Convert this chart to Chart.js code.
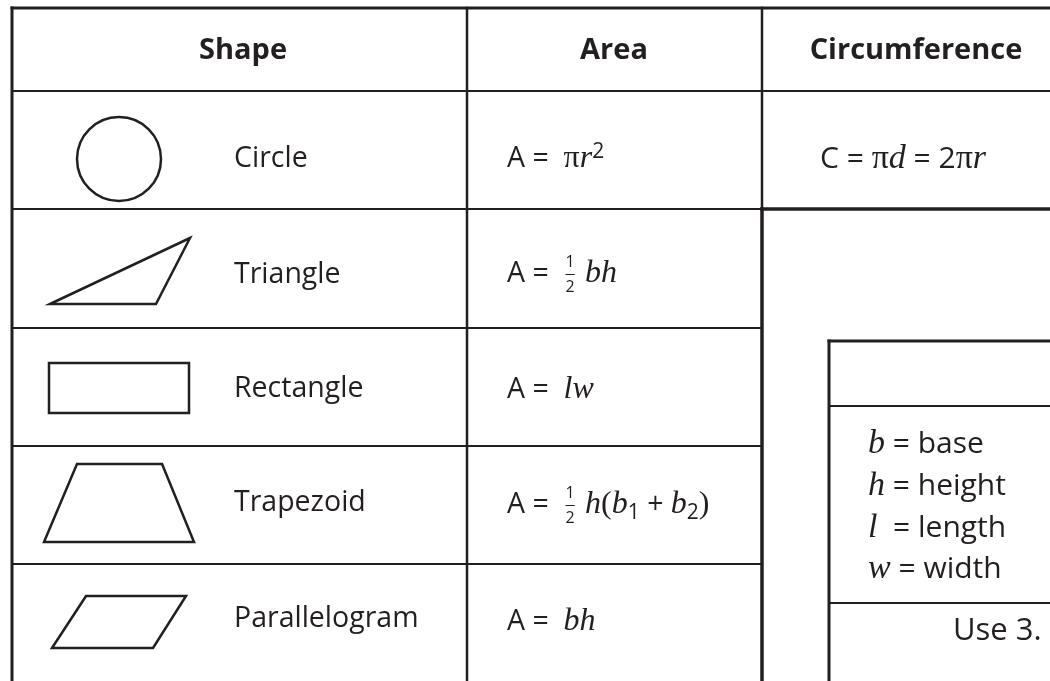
<!DOCTYPE html>
<html>
<head>
<meta charset="utf-8">
<title>Area and Circumference</title>
<script src="https://cdn.jsdelivr.net/npm/chart.js@4/dist/chart.umd.min.js"></script>
<style>
  html, body { margin: 0; padding: 0; background: #fff; }
  canvas { display: block; }
</style>
</head>
<body>
<canvas id="formulaChart" width="1050" height="681"></canvas>
<script>
// --- table content ---
const headers = ['Shape', 'Area', 'Circumference'];
const shapeNames = ['Circle', 'Triangle', 'Rectangle', 'Trapezoid', 'Parallelogram'];
// {x} = italic variable, [x] = upright symbol, ^n superscript, _n subscript, ½ stacked fraction
const areaFormulas = [
  'A =  [π]{r}^2',
  'A =  ½ {bh}',
  'A =  {lw}',
  'A =  ½ {h}[(]{b}_1 + {b}_2[)]',
  'A =  {bh}'
];
const circumferenceFormula = 'C = [π]{d} = 2[π]{r}';
const keyLines = ['{b} = base', '{h} = height', '{l}  = length', '{w} = width'];
const keyNote = 'Use 3.';

// outlines of the little drawings, in a unit box (0..1 across, 0..1 down)
const triangleOutline = [[0, 1], [1, 0], [0.757, 1]];
const rectangleOutline = [[0, 0], [1, 0], [1, 1], [0, 1]];
const trapezoidOutline = [[0, 1], [0.22, 0], [0.787, 0], [1, 1]];
const parallelogramOutline = [[0, 1], [0.254, 0], [1, 0], [0.754, 1]];

// --- layout (page units) ---
const layout = {
  left: 12, top: 8, right: 1050, bottom: 681,
  colArea: 467, colCirc: 762,
  headerBottom: 91, rowLines: [209, 328, 446, 564],
  keyLeft: 829, keyTop: 341, keyHead: 406, keyFoot: 603,
  headerX: [243, 614, 916], headerBase: 59,
  nameX: 234, nameBase: [167, 283, 397, 511, 627],
  areaX: 507, areaBase: [167, 282, 398, 513, 630],
  circX: 820, circBase: 168,
  keyX: 868, keyBase: [453, 495, 537, 578],
  noteX: 953, noteBase: 640,
  circle: { x: 119, y: 159, r: 42 },
  shapeBoxes: [
    null,
    [50, 238, 190, 304],
    [49, 363, 189, 413],
    [44, 464, 194, 542],
    [52, 596, 186, 648]
  ]
};

const INK = '#231f20';
const FONT_HEAD = 'bold 29px "Open Sans", sans-serif';
const FONT_NAME = '28.5px "Open Sans", sans-serif';
const FONT_NOTE = '31px "Open Sans", sans-serif';

// font set for a formula at a given sans size
const mathFonts = (s) => ({
  txt: s + 'px "Open Sans", sans-serif',
  v: 'italic ' + Math.round(s * 1.12) + 'px "Liberation Serif", serif',
  sym: Math.round(s * 1.12) + 'px "Liberation Serif", serif',
  small: Math.round(s * 0.72) + 'px "Open Sans", sans-serif',
  frac: Math.round(s * 0.57) + 'px "Open Sans", sans-serif'
});

const rule = (x1, y1, x2, y2, w) => ({
  data: [{ x: x1, y: y1 }, { x: x2, y: y2 }],
  showLine: true, borderColor: INK, borderWidth: w,
  pointRadius: 0, clip: false, borderCapStyle: 'square'
});

const outline = (pts, box) => {
  const [x0, y0, x1, y1] = box;
  const mapped = pts.map(p => ({ x: x0 + p[0] * (x1 - x0), y: y0 + p[1] * (y1 - y0) }));
  mapped.push(mapped[0], mapped[1]); // close the path with overlap for a clean corner
  return {
    data: mapped, showLine: true, borderColor: INK, borderWidth: 2.5,
    borderJoinStyle: 'miter', pointRadius: 0, clip: false, tension: 0
  };
};

const L = layout;
const datasets = [
  // outer frame
  rule(L.left, L.top, L.right, L.top, 3),
  rule(L.left, L.top, L.left, L.bottom, 3),
  rule(L.left, L.headerBottom, L.right, L.headerBottom, 2),
  // row lines
  ...L.rowLines.map(yy => rule(L.left, yy, L.colCirc, yy, 2)),
  rule(L.colCirc, L.rowLines[0], L.right, L.rowLines[0], 3.5),
  // column lines
  rule(L.colArea, L.top, L.colArea, L.bottom, 2.5),
  rule(L.colCirc, L.top, L.colCirc, L.rowLines[0], 2.5),
  rule(L.colCirc, L.rowLines[0], L.colCirc, L.bottom, 3.5),
  // key box
  rule(L.keyLeft, L.keyTop, L.right, L.keyTop, 3),
  rule(L.keyLeft, L.keyTop, L.keyLeft, L.bottom, 3),
  rule(L.keyLeft, L.keyHead, L.right, L.keyHead, 2),
  rule(L.keyLeft, L.keyFoot, L.right, L.keyFoot, 2),
  // drawings
  {
    data: [{ x: L.circle.x, y: L.circle.y }],
    pointRadius: L.circle.r, pointStyle: 'circle',
    pointBackgroundColor: 'rgba(0,0,0,0)', pointBorderColor: INK,
    pointBorderWidth: 2.5, clip: false
  },
  outline(triangleOutline, L.shapeBoxes[1]),
  outline(rectangleOutline, L.shapeBoxes[2]),
  outline(trapezoidOutline, L.shapeBoxes[3]),
  outline(parallelogramOutline, L.shapeBoxes[4])
];

function drawFormula(ctx, src, px, py, size) {
  const F = mathFonts(size);
  let cx = px;
  let i = 0;
  const put = (text, font, dy) => {
    ctx.font = font;
    ctx.fillText(text, cx, py + dy);
    cx += ctx.measureText(text).width;
  };
  while (i < src.length) {
    const c = src[i];
    if (c === '{') {
      const j = src.indexOf('}', i);
      put(src.slice(i + 1, j), F.v, 0);
      i = j + 1;
    } else if (c === '[') {
      const j = src.indexOf(']', i);
      put(src.slice(i + 1, j), F.sym, 0);
      i = j + 1;
    } else if (c === '^') {
      put(src[i + 1], F.small, -size * 0.33);
      i += 2;
    } else if (c === '_') {
      put(src[i + 1], F.small, size * 0.22);
      i += 2;
    } else if (c === '½') {
      ctx.font = F.frac;
      const w = Math.max(ctx.measureText('1').width, ctx.measureText('2').width);
      ctx.fillText('1', cx + 2, py - 15);
      ctx.fillText('2', cx + 2, py + 10);
      ctx.fillRect(cx + 2, py - 8, w, 1);
      cx += w + 5;
      i += 1;
    } else {
      let j = i;
      while (j < src.length && !'{[^_½'.includes(src[j])) j++;
      put(src.slice(i, j), F.txt, 0);
      i = j;
    }
  }
}

const tableText = {
  id: 'tableText',
  afterDatasetsDraw(chart) {
    const { ctx, scales: { x, y } } = chart;
    ctx.save();
    ctx.fillStyle = INK;
    ctx.textBaseline = 'alphabetic';

    // column headers
    ctx.font = FONT_HEAD;
    ctx.textAlign = 'center';
    headers.forEach((h, i) => {
      ctx.fillText(h, x.getPixelForValue(L.headerX[i]), y.getPixelForValue(L.headerBase));
    });

    ctx.textAlign = 'left';
    // shape names
    ctx.font = FONT_NAME;
    shapeNames.forEach((n, i) => {
      ctx.fillText(n, x.getPixelForValue(L.nameX), y.getPixelForValue(L.nameBase[i]));
    });

    // area formulas
    areaFormulas.forEach((f, i) => {
      drawFormula(ctx, f, x.getPixelForValue(L.areaX), y.getPixelForValue(L.areaBase[i]), 28.5);
    });

    // circumference
    drawFormula(ctx, circumferenceFormula, x.getPixelForValue(L.circX), y.getPixelForValue(L.circBase), 30);

    // key
    keyLines.forEach((k, i) => {
      drawFormula(ctx, k, x.getPixelForValue(L.keyX), y.getPixelForValue(L.keyBase[i]), 30);
    });
    ctx.font = FONT_NOTE;
    ctx.fillText(keyNote, x.getPixelForValue(L.noteX), y.getPixelForValue(L.noteBase));

    ctx.restore();
  }
};

new Chart(document.getElementById('formulaChart').getContext('2d'), {
  type: 'scatter',
  data: { datasets },
  options: {
    responsive: false,
    animation: false,
    events: [],
    layout: { padding: 0, autoPadding: false },
    plugins: { legend: { display: false }, tooltip: { enabled: false } },
    scales: {
      x: { type: 'linear', min: 0, max: 1050, display: false },
      y: { type: 'linear', min: 0, max: 681, reverse: true, display: false }
    }
  },
  plugins: [tableText]
});
</script>
</body>
</html>
